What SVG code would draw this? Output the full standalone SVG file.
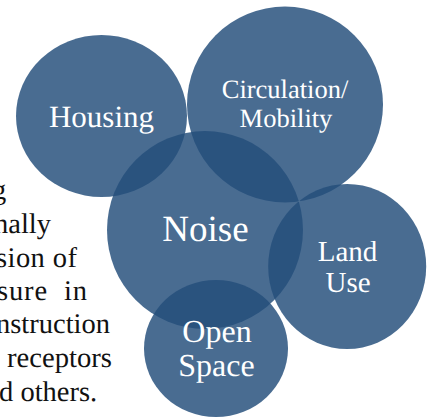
<svg xmlns="http://www.w3.org/2000/svg" width="430" height="417" viewBox="0 0 430 417">
<style>
text{text-rendering:geometricPrecision}
.c{fill:#244e7b;fill-opacity:.83}
.l{font-family:"Liberation Serif","Times New Roman",serif;fill:#fff;text-anchor:middle}
.b{font-family:"Liberation Serif","Times New Roman",serif;fill:#111;font-size:28.500px}
</style>
<rect width="430" height="417" fill="#fff"/>
<g id="body-text">
<text class="b" x="-8" y="199">g</text>
<text class="b" x="-6" y="233">nally</text>
<text class="b" x="-4" y="267" textLength="81" lengthAdjust="spacing">sion of</text>
<text class="b" x="-3" y="300" textLength="90" lengthAdjust="spacing" xml:space="preserve">sure  in</text>
<text class="b" x="-4" y="333">nstruction</text>
<text class="b" x="7" y="367" textLength="105" lengthAdjust="spacingAndGlyphs">receptors</text>
<text class="b" x="-1" y="401">d others.</text>
</g>
<g id="housing"><ellipse class="c" cx="101.5" cy="116" rx="85.5" ry="81"/><text class="l" x="101.5" y="127" font-size="31">Housing</text></g>
<g id="circulation"><ellipse class="c" cx="285" cy="104.5" rx="98" ry="98"/><text class="l" x="285" y="98" font-size="26.5">Circulation/</text><text class="l" x="286" y="127" font-size="26.5">Mobility</text></g>
<g id="noise"><ellipse class="c" cx="205" cy="230" rx="98" ry="99"/><text class="l" x="205.500" y="241" font-size="37">Noise</text></g>
<g id="land-use"><ellipse class="c" cx="347.200" cy="266.500" rx="79" ry="82.500"/><text class="l" x="347.500" y="261" font-size="29">Land</text><text class="l" x="348" y="292" font-size="29">Use</text></g>
<g id="open-space"><ellipse class="c" cx="216" cy="348.500" rx="72" ry="68.500"/><text class="l" x="217" y="342" font-size="32">Open</text><text class="l" x="216.500" y="376" font-size="32">Space</text></g>
</svg>
